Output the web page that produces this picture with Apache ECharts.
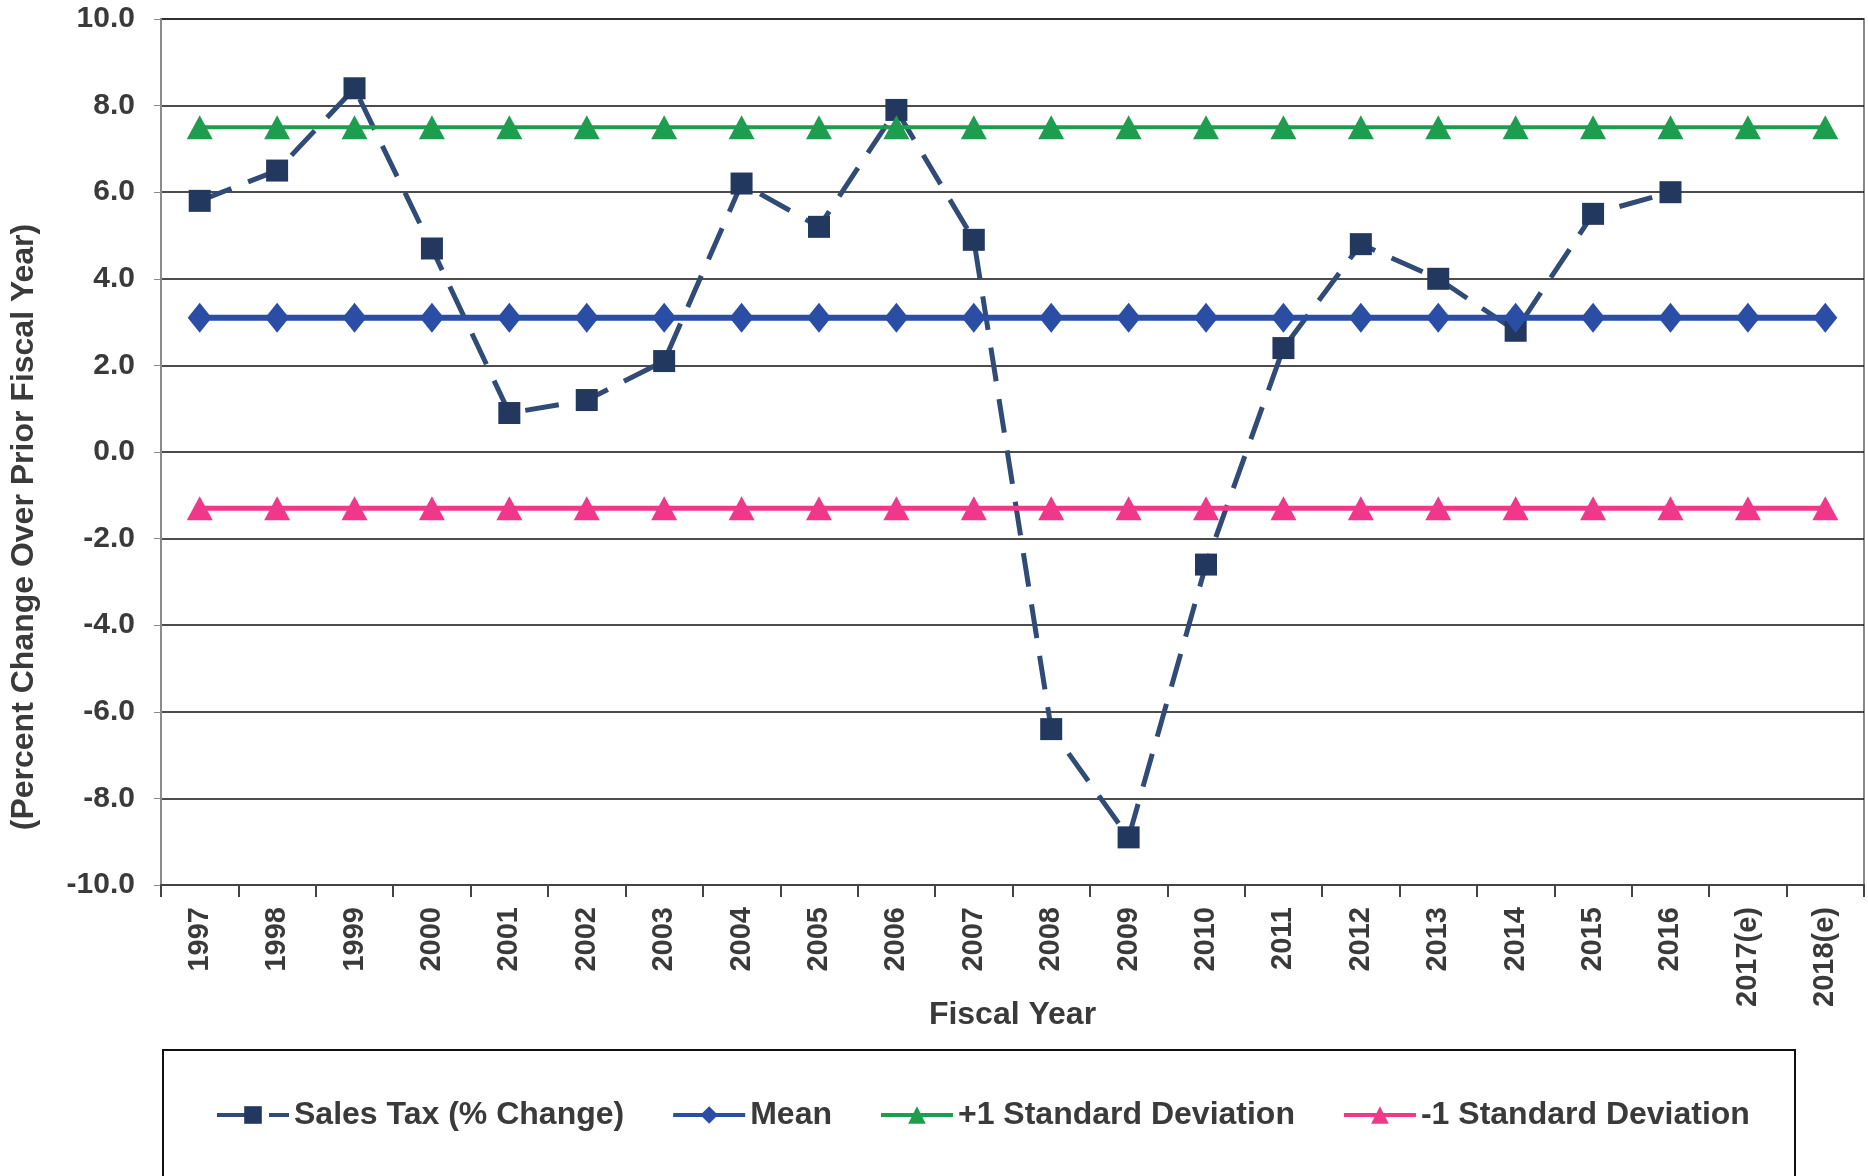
<!DOCTYPE html>
<html>
<head>
<meta charset="utf-8">
<script src="https://cdn.jsdelivr.net/npm/echarts@6/dist/echarts.min.js"></script>
<style>
    html, body { margin: 0; padding: 0; background: #fff; }
    #chart { width: 1868px; height: 1176px; }
</style>
</head>
<body>
<div id="chart"></div>
<script>
const years = ['1997', '1998', '1999', '2000', '2001', '2002', '2003', '2004', '2005', '2006', '2007',
    '2008', '2009', '2010', '2011', '2012', '2013', '2014', '2015', '2016', '2017(e)', '2018(e)']
const salesTax = [5.8, 6.5, 8.4, 4.7, 0.9, 1.2, 2.1, 6.2, 5.2, 7.9, 4.9,
    -6.4, -8.9, -2.6, 2.4, 4.8, 4.0, 2.8, 5.5, 6.0, null, null]
const meanValues = [3.1, 3.1, 3.1, 3.1, 3.1, 3.1, 3.1, 3.1, 3.1, 3.1, 3.1,
    3.1, 3.1, 3.1, 3.1, 3.1, 3.1, 3.1, 3.1, 3.1, 3.1, 3.1]
const plusSd = [7.5, 7.5, 7.5, 7.5, 7.5, 7.5, 7.5, 7.5, 7.5, 7.5, 7.5,
    7.5, 7.5, 7.5, 7.5, 7.5, 7.5, 7.5, 7.5, 7.5, 7.5, 7.5]
const minusSd = [-1.3, -1.3, -1.3, -1.3, -1.3, -1.3, -1.3, -1.3, -1.3, -1.3, -1.3,
    -1.3, -1.3, -1.3, -1.3, -1.3, -1.3, -1.3, -1.3, -1.3, -1.3, -1.3]

const textColor = '#3a3a3a'
const font = '"Liberation Sans", Arial, sans-serif'

const chart = echarts.init(document.getElementById('chart'))

chart.setOption({
    animation: false,
    textStyle: { fontFamily: font },
    grid: {
        left: 161,
        top: 19,
        right: 4,
        bottom: 291,
        show: true,
        borderColor: '#8a8a8a',
        borderWidth: 2,
    },
    xAxis: {
        type: 'category',
        data: years,
        boundaryGap: true,
        name: 'Fiscal Year',
        nameLocation: 'middle',
        nameGap: 114,
        nameMoveOverlap: false,
        nameTextStyle: { color: textColor, fontSize: 32, fontWeight: 'bold' },
        axisLine: { onZero: false, lineStyle: { color: '#444', width: 2 } },
        axisTick: { show: true, length: 12, lineStyle: { color: '#444', width: 2 } },
        axisLabel: {
            rotate: 90,
            margin: 22,
            color: textColor,
            fontSize: 29,
            fontWeight: 'bold',
        },
    },
    yAxis: {
        type: 'value',
        min: -10,
        max: 10,
        interval: 2,
        axisLine: { show: true, lineStyle: { color: '#8a8a8a', width: 2 } },
        axisTick: { show: true, length: 7, lineStyle: { color: '#8a8a8a' } },
        axisLabel: {
            margin: 26,
            color: textColor,
            fontSize: 30,
            fontWeight: 'bold',
            formatter: (v) => v.toFixed(1),
        },
        splitLine: { lineStyle: { color: '#111', width: 1.5 } },
    },
    legend: {
        left: 210,
        top: 1094,
        itemGap: 47,
        itemWidth: 72,
        itemHeight: 22,
        lineStyle: { width: 4 },
        textStyle: { color: textColor, fontSize: 32, fontWeight: 'bold', fontFamily: font },
        data: ['Sales Tax (% Change)', 'Mean', '+1 Standard Deviation', '-1 Standard Deviation'],
    },
    graphic: [
        {
            type: 'text',
            x: 24,
            y: 527,
            rotation: Math.PI / 2,
            silent: true,
            style: {
                text: '(Percent Change Over Prior Fiscal Year)',
                fill: textColor,
                font: 'bold 32px ' + font,
                align: 'center',
                verticalAlign: 'middle',
            },
        },
        {
            type: 'rect',
            shape: { x: 163, y: 1050, width: 1632, height: 160 },
            style: { fill: 'none', stroke: '#111', lineWidth: 2 },
            silent: true,
        },
    ],
    series: [
        {
            name: 'Sales Tax (% Change)',
            type: 'line',
            data: salesTax,
            z: 1,
            symbol: 'rect',
            symbolSize: 22,
            itemStyle: { color: '#22385f' },
            lineStyle: { color: '#2f4b76', width: 5, type: [34, 18] },
        },
        {
            name: 'Mean',
            type: 'line',
            data: meanValues,
            z: 3,
            symbol: 'diamond',
            symbolSize: [24, 30],
            itemStyle: { color: '#2a4ea6' },
            lineStyle: { color: '#2a4ea6', width: 6 },
        },
        {
            name: '+1 Standard Deviation',
            type: 'line',
            data: plusSd,
            z: 2,
            symbol: 'triangle',
            symbolSize: [26, 24],
            itemStyle: { color: '#1d9e4e' },
            lineStyle: { color: '#1d9e4e', width: 4 },
        },
        {
            name: '-1 Standard Deviation',
            type: 'line',
            data: minusSd,
            z: 2,
            symbol: 'triangle',
            symbolSize: [26, 24],
            itemStyle: { color: '#f0378a' },
            lineStyle: { color: '#f0378a', width: 5 },
        },
    ],
})
</script>
</body>
</html>
